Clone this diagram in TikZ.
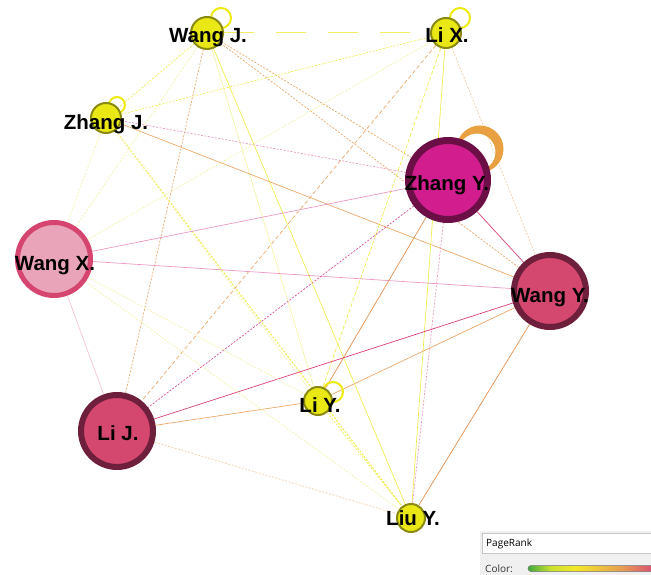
\documentclass[tikz,border=0pt]{standalone}
\usepackage{fontspec}
\setmainfont{Liberation Sans}
\newfontfamily\uifont{Open Sans}
\usetikzlibrary{calc}
\pgfdeclarelayer{bg}
\pgfsetlayers{bg,main}

% edge colours
\definecolor{ylw}{HTML}{F0EC50}
\definecolor{ylwL}{HTML}{F5F2A8}
\definecolor{org}{HTML}{EAA86A}
\definecolor{orgL}{HTML}{F2CCA6}
\definecolor{orgD}{HTML}{E49050}
\definecolor{pnk}{HTML}{EA98C2}
\definecolor{pnkL}{HTML}{F2C4D6}
\definecolor{mag}{HTML}{DA4078}
\definecolor{magD}{HTML}{D85098}
% node colours
\definecolor{yFill}{HTML}{E9E815}
\definecolor{yRing}{HTML}{8A8A12}
\definecolor{zyFill}{HTML}{D11D8D}
\definecolor{zyRing}{HTML}{6C0F46}
\definecolor{wxFill}{HTML}{E9A4B9}
\definecolor{wxRing}{HTML}{D5456F}
\definecolor{wyFill}{HTML}{D4476F}
\definecolor{wyRing}{HTML}{6D1F3B}
\definecolor{loopOrg}{HTML}{E8A040}
\definecolor{loopY}{HTML}{EEEA10}
% legend colours
\definecolor{gA}{HTML}{3DAA3D}
\definecolor{gB}{HTML}{C8E030}
\definecolor{gC}{HTML}{F2E82A}
\definecolor{gD}{HTML}{E8A050}
\definecolor{gE}{HTML}{D8407A}
\pgfdeclarehorizontalshading{prank}{100bp}{color(0bp)=(gA); color(25bp)=(gA); color(33bp)=(gB); color(42bp)=(gC); color(58bp)=(gD); color(72bp)=(gE); color(100bp)=(gE)}

\tikzset{
  e/.style={line width=0.7pt},
  fdash/.style={dash pattern=on 2pt off 1.5pt},
  ysol/.style={e, draw=ylw},
  yfnt/.style={e, draw=ylwL},
  ydot/.style={e, draw=ylw, fdash},
  yfdot/.style={e, draw=ylwL, fdash},
  ylong/.style={e, line width=1pt, draw=ylw!90!white, dash pattern=on 30pt off 22pt},
  ydash/.style={e, draw=ylw, dash pattern=on 4pt off 2pt},
  osol/.style={e, draw=org},
  odot/.style={e, draw=org, fdash},
  odash/.style={e, draw=org, dash pattern=on 4pt off 2.5pt},
  ofdot/.style={e, draw=orgL, fdash},
  odark/.style={e, draw=orgD},
  psol/.style={e, draw=pnk},
  pfnt/.style={e, draw=pnkL},
  pdot/.style={e, draw=pnk, fdash},
  msol/.style={e, draw=mag},
  mdot/.style={e, draw=magD, fdash},
  small/.style={circle, inner sep=0pt, fill=yFill, draw=yRing, line width=2pt},
  big/.style={circle, inner sep=0pt},
  lbl/.style={anchor=base, inner sep=0pt, font=\bfseries\fontsize{20.5}{24}\selectfont, text=black},
  yloop/.style={draw=loopY, line width=2pt},
}

\begin{document}
\begin{tikzpicture}[x=1pt,y=-1pt]
\useasboundingbox (0,0) rectangle (651,575);

% people
\node[small, minimum size=32pt] (wj) at (207,33) {};
\node[small, minimum size=30pt] (lx) at (446,33) {};
\node[small, minimum size=30pt] (zj) at (106,118) {};
\node[big, minimum size=79pt, fill=zyFill, draw=zyRing, line width=7pt] (zy) at (448,180) {};
\node[big, minimum size=73pt, fill=wxFill, draw=wxRing, line width=5pt] (wx) at (54,259) {};
\node[big, minimum size=72pt, fill=wyFill, draw=wyRing, line width=6pt] (wy) at (550,291) {};
\node[big, minimum size=72pt, fill=wyFill, draw=wyRing, line width=6pt] (lj) at (117,431) {};
\node[small, minimum size=28pt] (ly) at (318,401) {};
\node[small, minimum size=28pt] (liu) at (411,518) {};

\begin{pgfonlayer}{bg}
% co-authorship links
\draw[ylong] (wj) -- (lx);
\draw[ydot]  (wj) -- (zj);
\draw[yfdot] (wj) -- (wx);
\draw[odot]  (wj) -- (lj);
\draw[yfnt]  (wj) -- (ly);
\draw[ysol]  (wj) -- (liu);
\draw[odot]  (wj) -- (zy);
\draw[odot]  (wj) -- (wy);
\draw[ydot]  (zj) -- (lx);
\draw[pdot]  (zj) -- (zy);
\draw[osol]  (zj) -- (wy);
\draw[ydot, line width=1.1pt] (zj) -- (liu);
\draw[yfdot] (zj) -- (ly);
\draw[yfdot] (zj) -- (wx);
\draw[ydash] (lx) -- (ly);
\draw[odash] (lx) -- (lj);
\draw[yfdot] (lx) -- (wx);
\draw[ysol]  (lx) -- (liu);
\draw[ofdot] (lx) -- (wy);
\draw[pdot]  (zy) -- (liu);
\draw[psol]  (zy) -- (wx);
\draw[psol]  (wx) -- (wy);
\draw[mdot]  (zy) -- (lj);
\draw[msol]  (zy) -- (wy);
\draw[odark] (zy) -- (ly);
\draw[msol]  (wy) -- (lj);
\draw[osol]  (wy) -- (ly);
\draw[odark] (wy) -- (liu);
\draw[osol]  (lj) -- (ly);
\draw[ofdot] (lj) -- (liu);
\draw[pfnt]  (wx) -- (lj);
\draw[yfdot] (wx) -- (ly);
\draw[yfdot] (wx) -- (liu);
\draw[ydot]  (ly) -- (liu);
% self links
\draw[yloop] ($(wj)+(14,-15)$) circle (10);
\draw[yloop] ($(lx)+(14,-15)$) circle (10);
\draw[yloop] ($(zj)+(11,-13)$) circle (8);
\draw[yloop] ($(ly)+(15,-9)$) circle (10);
\fill[loopOrg, even odd rule] ($(zy)+(32,-31)$) circle (23.5) ($(zy)+(29,-28)$) circle (18.5);
\end{pgfonlayer}

% names
\node[lbl] (wjL)  at (208,43)  {Wang J.};
\node[lbl] (lxL)  at (447,43)  {Li X.};
\node[lbl] (zjL)  at (106,130) {Zhang J.};
\node[lbl] (zyL)  at (447,190) {Zhang Y.};
\node[lbl] (wxL)  at (55,270)  {Wang X.};
\node[lbl] (wyL)  at (550,302) {Wang Y.};
\node[lbl] (ljL)  at (118,440) {Li J.};
\node[lbl] (lyL)  at (320,412) {Li Y.};
\node[lbl] (liuL) at (413,525) {Liu Y.};

% colour legend
\fill[fill=black!6] (480,531) rectangle (660,580);
\draw[draw=black!22, fill=white] (482,533) rectangle (660,553);
\node[anchor=base west, inner sep=0pt, font=\uifont\fontsize{10}{12}\selectfont] (rankL) at (486,546) {PageRank};
\node[anchor=base west, inner sep=0pt, font=\uifont\fontsize{10}{12}\selectfont, text=black!80] (colL) at (485,572) {Color:};
\shade[shading=prank, draw=black!55, line width=0.5pt, rounded corners=3pt] (528,565.5) rectangle (668,571.5);
\end{tikzpicture}
\end{document}
